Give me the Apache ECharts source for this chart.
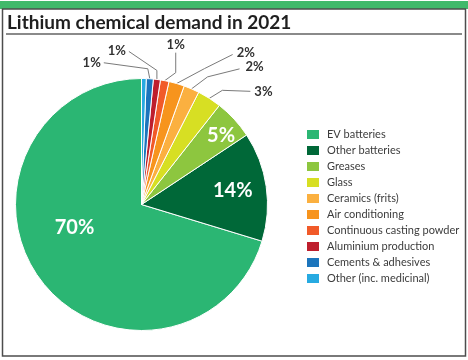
<!DOCTYPE html>
<html>
<head>
<meta charset="utf-8">
<script src="https://cdn.jsdelivr.net/npm/echarts@6/dist/echarts.min.js"></script>
<style>
html,body{margin:0;padding:0;background:#fff;}
#chart{width:468px;height:360px;}
</style>
</head>
<body>
<div id="chart"></div>
<script>
const titleText = 'Lithium chemical demand in 2021';
const categories = ['EV batteries', 'Other batteries', 'Greases', 'Glass', 'Ceramics (frits)',
  'Air conditioning', 'Continuous casting powder', 'Aluminium production', 'Cements & adhesives',
  'Other (inc. medicinal)'];
const shares = [70.3, 14.0, 5.1, 3.1, 2.0, 2.0, 1.1, 0.9, 0.9, 0.6];
const colors = ['#2bb673', '#006838', '#8dc63f', '#d7df23', '#fbb040', '#f7941d', '#f15a29',
  '#be1e2d', '#1c75bc', '#27aae1'];

// label styling (layout only)
const insideLabels = {
  0: {offset: [-14, -16]},
  1: {offset: [26, -4]},
  2: {offset: [31, -24]}
};
// outside label leader geometry relative to slice edge point: [elbow, end, labelPos, align, vAlign]
const outsideLayout = {
  3: [[13, -8], [41, -7], [45, -7], 'left', 'middle'],
  4: [[16, -12], [48, -20], [54, -22], 'left', 'middle'],
  5: [[28, -15], [56, -29], [60, -31], 'left', 'middle'],
  6: [[11, -8], [11, -28], [11, -29], 'center', 'bottom'],
  7: [[0, -9], [-28, -28], [-31, -29], 'right', 'middle'],
  8: [[-2, -10], [-46, -16], [-49, -16], 'right', 'middle']
};

const FONT = 'Lato, "Open Sans", sans-serif';
const chart = echarts.init(document.getElementById('chart'), null, {renderer: 'canvas'});

const seriesData = categories.map((name, i) => {
  const item = {name: name, value: shares[i], itemStyle: {color: colors[i]}};
  if (insideLabels[i]) {
    item.label = {show: true, position: 'inside', offset: insideLabels[i].offset,
      color: '#ffffff', fontSize: 20, fontWeight: 'bold', fontFamily: FONT};
    item.labelLine = {show: false};
  } else if (outsideLayout[i]) {
    item.label = {show: true, position: 'outside', color: '#333333', fontSize: 13,
      fontWeight: 'bold', fontFamily: FONT};
    item.labelLine = {show: true};
  } else {
    item.label = {show: false};
    item.labelLine = {show: false};
  }
  return item;
});

chart.setOption({
  backgroundColor: '#ffffff',
  animation: false,
  graphic: [
    {type: 'rect', shape: {x: 0, y: 1, width: 468, height: 8}, style: {fill: '#41b96b'}, silent: true},
    {type: 'rect', shape: {x: 2.5, y: 9, width: 463, height: 347}, style: {fill: 'none', stroke: '#4d4d4d', lineWidth: 1.5}, silent: true},
    {type: 'line', shape: {x1: 6, y1: 34, x2: 462, y2: 34}, style: {stroke: '#8a8a8a', lineWidth: 2}, silent: true},
    {type: 'text', x: 7, y: 23, style: {text: titleText, fill: '#1f1f1f', font: 'bold 19px ' + FONT, verticalAlign: 'middle'}, silent: true}
  ],
  legend: {
    orient: 'vertical',
    left: 300,
    top: 123,
    icon: 'rect',
    itemWidth: 14,
    itemHeight: 11,
    itemGap: 3,
    data: categories,
    selectedMode: false,
    textStyle: {color: '#3c3c3c', fontSize: 11, fontFamily: FONT, lineHeight: 11, padding: [0, 0, 0, 2]}
  },
  series: [{
    type: 'pie',
    center: [141.5, 204.5],
    radius: [0, 126],
    startAngle: 90,
    clockwise: false,
    avoidLabelOverlap: false,
    itemStyle: {borderColor: '#ffffff', borderWidth: 1},
    label: {formatter: p => Math.round(p.value) + '%'},
    labelLine: {lineStyle: {color: '#7a7a7a', width: 1}, length: 10, length2: 10},
    labelLayout: function (params) {
      const L = outsideLayout[params.dataIndex];
      if (!L || !params.labelLinePoints) return {};
      const p0 = params.labelLinePoints[0];
      return {
        x: p0[0] + L[2][0],
        y: p0[1] + L[2][1],
        align: L[3],
        verticalAlign: L[4],
        labelLinePoints: [
          [p0[0], p0[1]],
          [p0[0] + L[0][0], p0[1] + L[0][1]],
          [p0[0] + L[1][0], p0[1] + L[1][1]]
        ]
      };
    },
    data: seriesData
  }]
});
</script>
</body>
</html>
